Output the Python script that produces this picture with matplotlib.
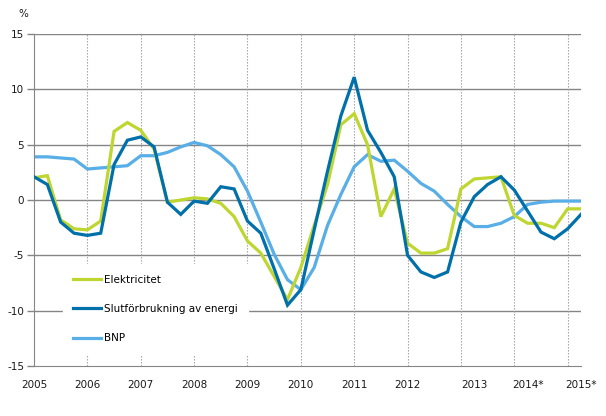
import numpy as np
import matplotlib
matplotlib.use("Agg")
import matplotlib.pyplot as plt

plt.rcParams["axes.unicode_minus"] = False

# quarterly values 2005Q1 .. 2015Q2
elektricitet = [2.0, 2.2, -1.8, -2.6, -2.7, -1.9, 6.2, 7.0, 6.3, 4.6,
                -0.2, 0.0, 0.2, 0.1, -0.3, -1.5, -3.7, -4.8, -6.9, -9.0,
                -6.1, -2.3, 1.4, 6.8, 7.8, 5.0, -1.5, 1.0, -3.9, -4.8,
                -4.8, -4.4, 1.0, 1.9, 2.0, 2.1, -1.4, -2.1, -2.1, -2.5,
                -0.8, -0.8]
slutforbrukning = [2.1, 1.4, -2.0, -3.0, -3.2, -3.0, 3.2, 5.4, 5.7, 4.8,
                   -0.2, -1.3, -0.1, -0.3, 1.2, 1.0, -1.9, -3.0, -6.2, -9.5,
                   -8.1, -2.7, 2.6, 7.6, 11.1, 6.3, 4.3, 2.1, -5.0, -6.5,
                   -7.0, -6.5, -2.0, 0.3, 1.4, 2.1, 0.9, -1.0, -2.9, -3.5,
                   -2.6, -1.3]
bnp = [3.9, 3.9, 3.8, 3.7, 2.8, 2.9, 3.0, 3.1, 4.0, 4.0,
       4.3, 4.8, 5.2, 4.9, 4.1, 3.0, 0.8, -2.0, -4.9, -7.2,
       -8.1, -6.1, -2.3, 0.5, 3.0, 4.1, 3.5, 3.6, 2.6, 1.5,
       0.8, -0.4, -1.5, -2.4, -2.4, -2.1, -1.5, -0.4, -0.2, -0.1,
       -0.1, -0.1]

year_labels = ["2005", "2006", "2007", "2008", "2009", "2010", "2011",
               "2012", "2013", "2014*", "2015*"]
year_label_pos = [0, 4, 8, 12, 16, 20, 24, 28, 33, 37, 41]
year_grid_pos = [4, 8, 12, 16, 20, 24, 28, 32, 36, 40]

x = np.arange(len(bnp))

fig = plt.figure(figsize=(6.06, 4.16), dpi=100)
ax = fig.add_axes([34 / 606, 50 / 416, 547 / 606, 332 / 416])

for yv in [-10, -5, 0, 5, 10, 15]:
    ax.axhline(yv, color="#858585", lw=1.0, zorder=1)
for xv in year_grid_pos:
    ax.axvline(xv, color="#9a9aa6", lw=0.8, ls=(0, (1.2, 1.5)), zorder=1)

ax.plot(x, elektricitet, color="#bed62f", lw=2.3, label="Elektricitet",
        solid_joinstyle="miter", zorder=3)
ax.plot(x, slutforbrukning, color="#0070ab", lw=2.3,
        label="Slutförbrukning av energi", solid_joinstyle="miter", zorder=4)
ax.plot(x, bnp, color="#58aee6", lw=2.3, label="BNP",
        solid_joinstyle="miter", zorder=2)

ax.set_xlim(0, 41)
ax.set_ylim(-15, 15)
ax.set_yticks([-15, -10, -5, 0, 5, 10, 15])
ax.set_xticks(year_label_pos)
ax.set_xticklabels(year_labels)

for side in ["top", "right"]:
    ax.spines[side].set_visible(False)
ax.spines["left"].set_color("#858585")
ax.spines["bottom"].set_color("#858585")
ax.tick_params(axis="y", length=5, width=1, color="#858585", pad=2,
               labelsize=7.5, labelcolor="#1a1a1a")
ax.tick_params(axis="x", length=0, pad=10, labelsize=7.5,
               labelcolor="#1a1a1a")

fig.text(23 / 606, 1 - 14 / 416, "%", fontsize=7.5, color="#1a1a1a",
         ha="center", va="center")

leg = ax.legend(loc="center left", bbox_to_anchor=(63 / 606, 1 - 309 / 416),
                bbox_transform=fig.transFigure, fontsize=7.5,
                frameon=True, fancybox=False, handlelength=2.6,
                handletextpad=0.3, labelspacing=1.85, borderpad=1.0,
                borderaxespad=0)
leg.get_frame().set_facecolor("white")
leg.get_frame().set_edgecolor("white")
leg.get_frame().set_alpha(1)
leg.set_zorder(5)

fig.savefig("out.png", dpi=100)
